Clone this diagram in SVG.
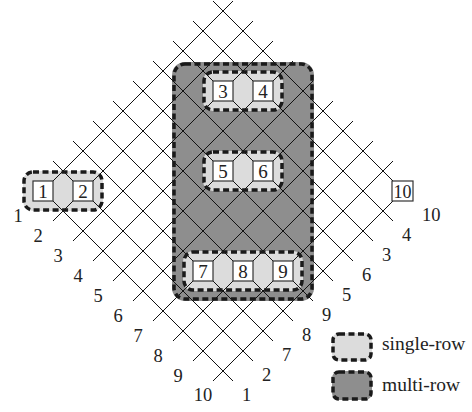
<svg xmlns="http://www.w3.org/2000/svg" width="472" height="412" viewBox="0 0 472 412">
<style>
  text { font-family: "Liberation Serif", "Times New Roman", serif; fill: #222; }
  .lbl { font-size: 18.5px; }
  .num { font-size: 19px; text-anchor: middle; }
  .leg { font-size: 19.5px; }
  .grid line { stroke: #111; stroke-width: 1; }
  .light { fill: #dcdcdc; }
  .dark { fill: #8e8e8e; }
  .dash { fill: none; stroke: #1a1a1a; stroke-width: 3.5; stroke-dasharray: 6 3.5; }
  .box { fill: #fff; stroke: #333; stroke-width: 1.2; }
</style>

<!-- region fills -->
<g id="multi-row-region">
  <rect class="dark" x="172" y="62" width="142" height="239" rx="13"/>
</g>
<g id="single-row-regions">
  <rect class="light" x="23" y="171" width="80" height="40" rx="10"/>
  <rect class="light" x="203" y="71" width="80" height="40" rx="10"/>
  <rect class="light" x="203" y="151" width="80" height="40" rx="10"/>
  <rect class="light" x="183" y="251" width="120" height="40" rx="10"/>
</g>

<!-- grid lines (connectors) -->
<g id="connectors" class="grid">
  <line x1="33" y1="201" x2="233" y2="1"/>
  <line x1="53" y1="221" x2="253" y2="21"/>
  <line x1="73" y1="241" x2="273" y2="41"/>
  <line x1="93" y1="261" x2="293" y2="61"/>
  <line x1="113" y1="281" x2="313" y2="81"/>
  <line x1="133" y1="301" x2="333" y2="101"/>
  <line x1="153" y1="321" x2="353" y2="121"/>
  <line x1="173" y1="341" x2="373" y2="141"/>
  <line x1="193" y1="361" x2="393" y2="161"/>
  <line x1="213" y1="381" x2="413" y2="181"/>

  <line x1="213" y1="1" x2="413" y2="201"/>
  <line x1="193" y1="21" x2="393" y2="221"/>
  <line x1="173" y1="41" x2="373" y2="241"/>
  <line x1="153" y1="61" x2="353" y2="261"/>
  <line x1="133" y1="81" x2="333" y2="281"/>
  <line x1="113" y1="101" x2="313" y2="301"/>
  <line x1="93" y1="121" x2="293" y2="321"/>
  <line x1="73" y1="141" x2="273" y2="341"/>
  <line x1="53" y1="161" x2="253" y2="361"/>
  <line x1="33" y1="181" x2="233" y2="381"/>
</g>

<!-- dashed outlines -->
<g id="outlines">
  <rect class="dash" x="174" y="64" width="138" height="235" rx="11"/>
  <rect class="dash" x="24" y="172" width="78" height="38" rx="9"/>
  <rect class="dash" x="204" y="72" width="78" height="38" rx="9"/>
  <rect class="dash" x="204" y="152" width="78" height="38" rx="9"/>
  <rect class="dash" x="184" y="252" width="118" height="38" rx="9"/>
</g>

<!-- nodes -->
<g id="node1"><rect class="box" x="33" y="181" width="20" height="20"/><text class="num" x="43" y="197.5">1</text></g>
<g id="node2"><rect class="box" x="73" y="181" width="20" height="20"/><text class="num" x="83" y="197.5">2</text></g>
<g id="node3"><rect class="box" x="213" y="81" width="20" height="20"/><text class="num" x="223" y="97.5">3</text></g>
<g id="node4"><rect class="box" x="253" y="81" width="20" height="20"/><text class="num" x="263" y="97.5">4</text></g>
<g id="node5"><rect class="box" x="213" y="161" width="20" height="20"/><text class="num" x="223" y="177.5">5</text></g>
<g id="node6"><rect class="box" x="253" y="161" width="20" height="20"/><text class="num" x="263" y="177.5">6</text></g>
<g id="node7"><rect class="box" x="193" y="261" width="20" height="20"/><text class="num" x="203" y="277.5">7</text></g>
<g id="node8"><rect class="box" x="233" y="261" width="20" height="20"/><text class="num" x="243" y="277.5">8</text></g>
<g id="node9"><rect class="box" x="273" y="261" width="20" height="20"/><text class="num" x="283" y="277.5">9</text></g>
<g id="node10"><rect class="box" x="392" y="181" width="21" height="20"/><text class="num" x="402.5" y="197.5" style="font-size:18px">10</text></g>

<!-- left labels -->
<g id="left-labels" text-anchor="middle">
  <text class="lbl" x="18" y="222">1</text>
  <text class="lbl" x="38" y="242">2</text>
  <text class="lbl" x="58" y="262">3</text>
  <text class="lbl" x="78" y="282">4</text>
  <text class="lbl" x="98" y="302">5</text>
  <text class="lbl" x="118" y="322">6</text>
  <text class="lbl" x="138" y="342">7</text>
  <text class="lbl" x="158" y="362">8</text>
  <text class="lbl" x="178" y="382">9</text>
  <text class="lbl" x="203" y="401">10</text>
</g>

<!-- right labels -->
<g id="right-labels">
  <text class="lbl" x="422" y="221">10</text>
  <text class="lbl" x="402" y="241">4</text>
  <text class="lbl" x="382" y="261">3</text>
  <text class="lbl" x="362" y="281">6</text>
  <text class="lbl" x="342" y="301">5</text>
  <text class="lbl" x="322" y="321">9</text>
  <text class="lbl" x="302" y="341">8</text>
  <text class="lbl" x="282" y="361">7</text>
  <text class="lbl" x="262" y="381">2</text>
  <text class="lbl" x="242" y="401">1</text>
</g>

<!-- legend -->
<g id="legend-single">
  <rect class="light" x="332" y="333" width="40" height="28" rx="7"/>
  <rect class="dash" x="333" y="334" width="38" height="26" rx="6"/>
  <text class="leg" x="382" y="350">single-row</text>
</g>
<g id="legend-multi">
  <rect class="dark" x="332" y="371" width="40" height="29" rx="7"/>
  <rect class="dash" x="333" y="372" width="38" height="27" rx="6"/>
  <text class="leg" x="382" y="391">multi-row</text>
</g>
</svg>
